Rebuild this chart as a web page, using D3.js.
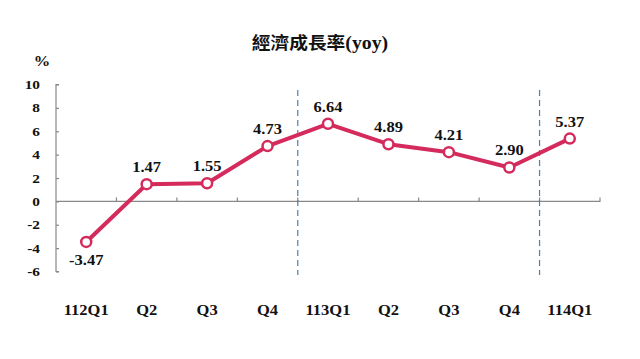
<!DOCTYPE html>
<html><head><meta charset="utf-8">
<script src="https://cdn.jsdelivr.net/npm/d3@7/dist/d3.min.js"></script>
<style>body{margin:0;background:#fff}svg{display:block}</style>
</head><body><svg id="c" width="640" height="359"></svg>
<script>
const categories = ["112Q1","Q2","Q3","Q4","113Q1","Q2 ","Q3 ","Q4 ","114Q1"];
const values = [-3.47,1.47,1.55,4.73,6.64,4.89,4.21,2.90,5.37];
const labels = ["-3.47","1.47","1.55","4.73","6.64","4.89","4.21","2.90","5.37"];
const yTicks = [-6,-4,-2,0,2,4,6,8,10];
const dividers = ["113Q1","114Q1"];
const title = "經濟成長率(yoy)";

const svg = d3.select("#c");
const x = d3.scaleBand().domain(categories).range([56,600]);
const y = d3.scaleLinear().domain([-6,10]).range([271.5,84.5]);
const serif = "'Liberation Serif','Times New Roman',serif";
const color = "#d42a5c";
const sx = 1.18;

svg.append("text").attr("transform","translate(320,49) scale(1.1,1)").attr("text-anchor","middle")
  .attr("font-size",17).attr("font-weight","bold").attr("fill","#111")
  .selectAll("tspan").data([["經濟成長率","'Noto Sans CJK TC',sans-serif"],["(yoy)",serif]]).join("tspan")
  .attr("font-family",d=>d[1]).attr("font-size",(d,i)=>i?18:17).text(d=>d[0]);

svg.append("text").attr("transform","translate(42,66) scale(1.1,1)").attr("text-anchor","middle")
  .attr("font-family",serif).attr("font-weight","bold").attr("font-size",15).attr("fill","#111").text("%");

// y axis
const ya = svg.append("g").attr("transform","translate(56,0)")
  .call(d3.axisRight(y).tickValues(yTicks).tickSize(3).tickFormat(""));
ya.select(".domain").attr("d",`M3,${y(10)}H0V${y(-6)}H3`);
ya.selectAll("path,line").attr("stroke","#888").attr("stroke-width",1.2);
svg.selectAll(".ylab").data(yTicks).join("text").attr("class","ylab")
  .attr("transform",d=>`translate(40,${y(d)+4.5}) scale(${sx},1)`).attr("text-anchor","end")
  .attr("font-family",serif).attr("font-weight","bold").attr("font-size",13).attr("fill","#111")
  .text(d=>d);

// x axis at zero
const bounds = categories.slice(1).map(c=>x(c));
const xa = svg.append("g").attr("transform",`translate(0,${y(0)})`);
xa.append("path").attr("d",`M56,0H600V-4`).attr("fill","none").attr("stroke","#888").attr("stroke-width",1.2);
xa.selectAll("line").data(bounds).join("line").attr("x1",d=>d).attr("x2",d=>d).attr("y1",0).attr("y2",-4)
  .attr("stroke","#888").attr("stroke-width",1.2);

// dividers
svg.selectAll(".div").data(dividers).join("line").attr("class","div")
  .attr("x1",d=>x(d)).attr("x2",d=>x(d)).attr("y1",90).attr("y2",275)
  .attr("stroke","#4a80b0").attr("stroke-width",1.2).attr("stroke-dasharray","6,4");

// x labels
svg.selectAll(".xlab").data(categories).join("text").attr("class","xlab")
  .attr("transform",d=>`translate(${x(d)+x.bandwidth()/2},315) scale(${sx},1)`).attr("text-anchor","middle")
  .attr("font-family",serif).attr("font-weight","bold").attr("font-size",14).attr("fill","#111")
  .text(d=>d.trim());

// line
const cx = (d,i)=>x(categories[i])+x.bandwidth()/2;
svg.append("path").datum(values)
  .attr("d",d3.line().x(cx).y(d=>y(d)))
  .attr("fill","none").attr("stroke",color).attr("stroke-width",4).attr("stroke-linejoin","round");
svg.selectAll(".pt").data(values).join("circle").attr("class","pt")
  .attr("cx",cx).attr("cy",d=>y(d)).attr("r",5)
  .attr("fill","#fff").attr("stroke",color).attr("stroke-width",2.5);
svg.selectAll(".vl").data(values).join("text").attr("class","vl")
  .attr("transform",(d,i)=>`translate(${cx(d,i)},${d<0?y(d)+23:y(d)-12}) scale(${sx},1)`).attr("text-anchor","middle")
  .attr("font-family",serif).attr("font-weight","bold").attr("font-size",14).attr("fill","#111")
  .text((d,i)=>labels[i]);
</script></body></html>
